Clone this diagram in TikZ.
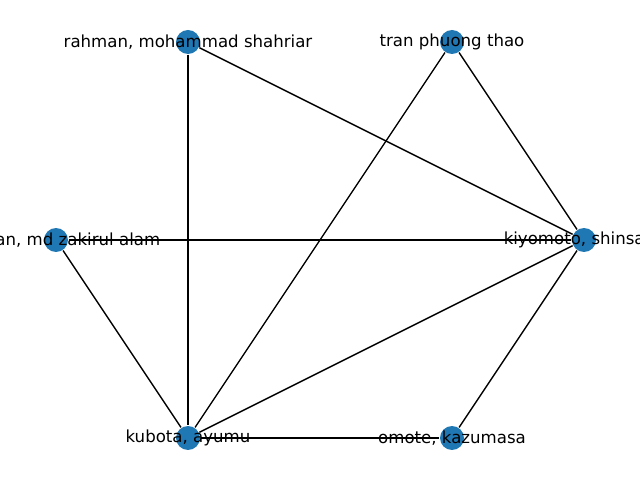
\documentclass[tikz,border=0pt]{standalone}
\usepackage{fontspec}
\setmainfont{DejaVu Sans}
\definecolor{nodeblue}{RGB}{31,119,180}

\begin{document}
\begin{tikzpicture}[x=0.0254cm,y=-0.0254cm,line width=1pt,
	main node/.style={circle,fill=nodeblue,inner sep=0pt,minimum size=0.6096cm},
	name node/.style={inner sep=0pt,font=\fontsize{12}{14}\selectfont}]
	
	\useasboundingbox (0,0) rectangle (640,480);
	\clip (0,0) rectangle (640,480);
	
	\node[main node] (rahman) at (188,42) {};
	\node[main node] (tran) at (452,42) {};
	\node[main node] (zakirul) at (56,240) {};
	\node[main node] (kiyomoto) at (584,240) {};
	\node[main node] (kubota) at (188,438) {};
	\node[main node] (omote) at (452,438) {};
	
	\path[draw=black]
	(rahman) edge (kiyomoto)
	(rahman) edge (kubota)
	(tran) edge (kiyomoto)
	(tran) edge (kubota)
	(zakirul) edge (kiyomoto)
	(zakirul) edge (kubota)
	(kiyomoto) edge (kubota)
	(kiyomoto) edge (omote)
	(kubota) edge (omote);
	
	\node[name node] (l1) at (rahman) {rahman, mohammad shahriar};
	\node[name node] (l2) at (tran) {tran phuong thao};
	\node[name node] (l3) at (zakirul) {rahman, md zakirul alam};
	\node[name node] (l4) at (kiyomoto) {kiyomoto, shinsaku};
	\node[name node] (l5) at (kubota) {kubota, ayumu};
	\node[name node] (l6) at (omote) {omote, kazumasa};
\end{tikzpicture}
\end{document}
